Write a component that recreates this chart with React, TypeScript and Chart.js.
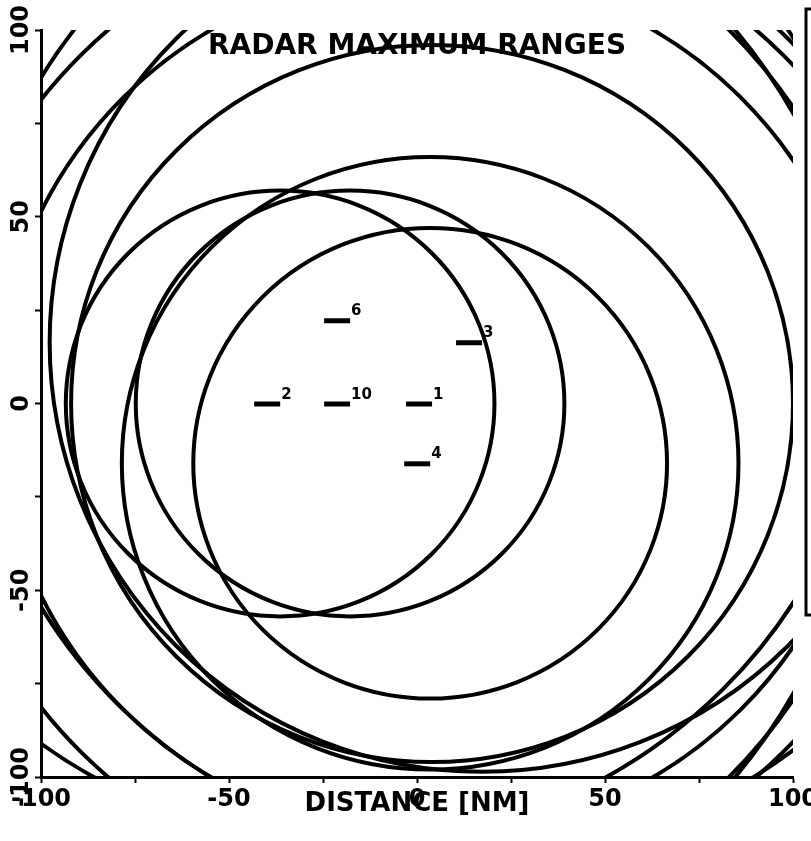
import React, { useEffect, useRef } from "react";
import { Chart, registerables } from "chart.js";

Chart.register(...registerables);

// Radar sites (NM)
const siteNames = ["1", "2", "10", "6", "3", "4"];
const siteX = [4, -36.4, -17.8, -17.8, 17.3, 3.5];
const siteY = [0, 0, 0, 22.3, 16.4, -16];

// Maximum range circles: which site (index), and radius (NM)
const circleSite = [0, 0, 0, 1, 1, 2, 2, 5, 5, 3, 4, 4];
const circleRadius = [96, 116, 132, 57, 157, 57, 142, 63, 82, 140, 115, 137];

const axisMin = -100;
const axisMax = 100;
const tickStep = 25;
const labelStep = 50;

const titleText = "RADAR MAXIMUM RANGES";
const xTitleText = "DISTANCE [NM]";

const FONT = "'DejaVu Sans', sans-serif";

function makeDash(): HTMLCanvasElement {
  const c = document.createElement("canvas");
  c.width = 56;
  c.height = 10;
  const g = c.getContext("2d")!;
  g.fillStyle = "#000";
  g.fillRect(2, 3, 26, 5);
  return c;
}

const overlayPlugin = {
  id: "radarOverlay",
  beforeDatasetsDraw(chart: any) {
    const { ctx, chartArea, scales } = chart;
    const xs = scales.x;
    const ys = scales.y;
    ctx.save();
    ctx.beginPath();
    ctx.rect(chartArea.left, chartArea.top, chartArea.right - chartArea.left, chartArea.bottom - chartArea.top);
    ctx.clip();
    ctx.strokeStyle = "#000";
    ctx.lineWidth = 4;
    for (let i = 0; i < circleSite.length; i++) {
      const s = circleSite[i];
      const cx = siteX[s];
      const cy = siteY[s];
      const r = circleRadius[i];
      const px = xs.getPixelForValue(cx);
      const py = ys.getPixelForValue(cy);
      const rx = Math.abs(xs.getPixelForValue(cx + r) - px);
      const ry = Math.abs(py - ys.getPixelForValue(cy + r));
      ctx.beginPath();
      ctx.ellipse(px, py, rx, ry, 0, 0, Math.PI * 2);
      ctx.stroke();
    }
    ctx.restore();
  },
  afterDraw(chart: any) {
    const { ctx, chartArea, scales } = chart;
    const xs = scales.x;
    const ys = scales.y;
    ctx.save();
    ctx.fillStyle = "#000";
    // site labels
    ctx.font = `bold 15px ${FONT}`;
    ctx.textAlign = "left";
    ctx.textBaseline = "alphabetic";
    for (let i = 0; i < siteNames.length; i++) {
      const px = xs.getPixelForValue(siteX[i]);
      const py = ys.getPixelForValue(siteY[i]);
      ctx.fillText(siteNames[i], px + 1, py - 5);
    }
    // title inside plot
    ctx.font = `bold 28px ${FONT}`;
    ctx.textAlign = "center";
    ctx.textBaseline = "middle";
    ctx.fillText(titleText, (chartArea.left + chartArea.right) / 2, chartArea.top + 17);
    // partial box at right edge
    ctx.strokeStyle = "#000";
    ctx.lineWidth = 3;
    ctx.strokeRect(806, 9, 30, 606);
    ctx.restore();
  },
};

export default function App() {
  const ref = useRef<HTMLCanvasElement | null>(null);
  useEffect(() => {
    if (!ref.current) return;
    const dash = makeDash();
    const chart = new Chart(ref.current, {
      type: "scatter",
      data: {
        datasets: [
          {
            label: "Sites",
            data: siteX.map((x, i) => ({ x, y: siteY[i] })),
            pointStyle: dash,
            pointRadius: 13,
            borderColor: "#000",
            backgroundColor: "#000",
            showLine: false,
          },
        ],
      },
      options: {
        animation: false,
        responsive: true,
        maintainAspectRatio: false,
        layout: { autoPadding: false, padding: { left: 0, right: 18, top: 30, bottom: 0 } },
        plugins: {
          legend: { display: false },
          tooltip: { enabled: false },
          title: { display: false },
        },
        scales: {
          x: {
            type: "linear",
            min: axisMin,
            max: axisMax,
            afterFit: (s: any) => {
              s.height = 64;
              s.paddingLeft = 0;
              s.paddingRight = 0;
            },
            ticks: {
              stepSize: tickStep,
              autoSkip: false,
              maxRotation: 0,
              minRotation: 0,
              padding: 2,
              color: "#000",
              font: { family: FONT, size: 24, weight: "bold" },
              callback: (v: any) => (Number(v) % labelStep === 0 ? String(v) : ""),
            },
            grid: {
              drawOnChartArea: false,
              drawTicks: true,
              tickLength: 6,
              tickWidth: 2,
              tickColor: "#000",
            },
            border: { display: true, color: "#000", width: 3 },
            title: {
              display: true,
              text: xTitleText,
              color: "#000",
              font: { family: FONT, size: 26, weight: "bold" },
              padding: { top: 0, bottom: 21 },
            },
          },
          y: {
            type: "linear",
            min: axisMin,
            max: axisMax,
            afterFit: (s: any) => {
              s.width = 41;
              s.paddingTop = 0;
              s.paddingBottom = 0;
            },
            ticks: {
              stepSize: tickStep,
              autoSkip: false,
              minRotation: 90,
              maxRotation: 90,
              crossAlign: "center",
              padding: -17,
              color: "#000",
              font: { family: FONT, size: 24, weight: "bold" },
              callback: (v: any) => (Number(v) % labelStep === 0 ? String(v) : ""),
            },
            grid: {
              drawOnChartArea: false,
              drawTicks: true,
              tickLength: 6,
              tickWidth: 2,
              tickColor: "#000",
            },
            border: { display: true, color: "#000", width: 3 },
          },
        },
      },
      plugins: [overlayPlugin],
    } as any);
    return () => chart.destroy();
  }, []);
  return (
    <div style={{ position: "fixed", left: 0, top: 0, width: 811, height: 841, background: "#fff" }}>
      <canvas ref={ref} />
    </div>
  );
}
